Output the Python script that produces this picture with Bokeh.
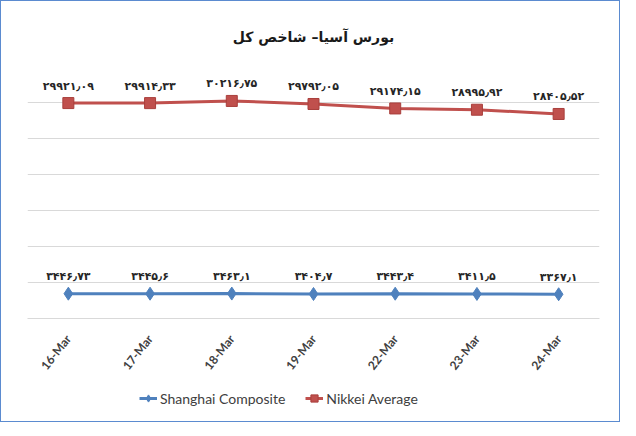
from bokeh.plotting import figure
from bokeh.layouts import column
from bokeh.models import ColumnDataSource, Legend, LegendItem, Range1d, FixedTicker
from bokeh.core.properties import value
from bokeh.embed import file_html
from bokeh.resources import INLINE

dates = ["16-Mar", "17-Mar", "18-Mar", "19-Mar", "22-Mar", "23-Mar", "24-Mar"]
shanghai = [3446.73, 3445.6, 3463.1, 3404.7, 3443.4, 3411.5, 3367.1]
nikkei = [29921.09, 29914.33, 30216.75, 29792.05, 29174.15, 28995.92, 28405.52]
series_names = ["Shanghai Composite", "Nikkei Average"]
title_text = "بورس آسیا– شاخص کل"

fa = str.maketrans("0123456789.", "۰۱۲۳۴۵۶۷۸۹٫")
def fa_label(v):
    return str(v).translate(fa)

blue = "#4f81bd"
red = "#c0504d"

src_s = ColumnDataSource(dict(x=dates, y=shanghai, lab=[fa_label(v) for v in shanghai]))
src_n = ColumnDataSource(dict(x=dates, y=nikkei, lab=[fa_label(v) for v in nikkei]))

p = figure(x_range=dates, y_range=Range1d(0, 35000), width=618, height=382,
           output_backend="svg", toolbar_location=None, min_border_left=26,
           min_border_right=20, min_border_top=65, min_border_bottom=65)
p.outline_line_color = None
p.background_fill_color = "white"
p.border_fill_color = "white"

p.title.text = title_text
p.title.align = "center"
p.title.text_font = "DejaVu Sans"
p.title.text_font_style = "bold"
p.title.text_font_size = "14px"
p.title.text_color = "#1a1a1a"
p.title.standoff = 44

p.yaxis.visible = False
p.ygrid.ticker = FixedTicker(ticks=[0, 5000, 10000, 15000, 20000, 25000, 30000, 35000])
p.ygrid.grid_line_color = "#d9d9d9"
p.xgrid.grid_line_color = None

p.xaxis.axis_line_color = "#d9d9d9"
p.xaxis.major_tick_line_color = None
p.xaxis.minor_tick_line_color = None
p.xaxis.major_label_orientation = 0.9
p.xaxis.major_label_text_font = "Lato"
p.xaxis.major_label_text_font_style = "bold"
p.xaxis.major_label_text_font_size = "12px"
p.xaxis.major_label_text_color = "#404040"
p.xaxis.major_label_standoff = 12

p.line("x", "y", source=src_s, line_color=blue, line_width=3)
p.scatter("x", "y", source=src_s, marker="diamond", size=13, fill_color=blue, line_color=blue)
p.line("x", "y", source=src_n, line_color=red, line_width=3)
p.scatter("x", "y", source=src_n, marker="square", size=11, fill_color=red, line_color="#a93f3c")

for src in (src_s, src_n):
    p.text("x", "y", text="lab", source=src, text_align="center", text_baseline="middle",
           y_offset=-17, text_font=value("DejaVu Sans"), text_font_style="bold",
           text_font_size="11px", text_color="#262626")

# legend strip (placeholder renderers with no visible data only supply the legend glyphs)
lg = figure(width=618, height=38, output_backend="svg", toolbar_location=None,
            x_range=Range1d(0, 1), y_range=Range1d(0, 1),
            min_border_left=0, min_border_right=0, min_border_top=0, min_border_bottom=0)
lg.axis.visible = False
lg.grid.visible = False
lg.outline_line_color = None
nan = float("nan")
empty = ColumnDataSource(dict(x=[nan], y=[nan]))
r1 = [lg.line("x", "y", source=empty, line_color=blue, line_width=3),
      lg.scatter("x", "y", source=empty, marker="diamond", size=11, fill_color=blue, line_color=blue)]
r2 = [lg.line("x", "y", source=empty, line_color=red, line_width=3),
      lg.scatter("x", "y", source=empty, marker="square", size=9, fill_color=red, line_color="#a93f3c")]
legend = Legend(items=[LegendItem(label=series_names[0], renderers=r1),
                       LegendItem(label=series_names[1], renderers=r2)],
                orientation="horizontal", location=(112, 13), border_line_color=None,
                background_fill_alpha=0, label_standoff=3,
                label_text_font="Lato", label_text_font_size="14px", label_text_color="#404040",
                glyph_width=18, spacing=20, padding=2, margin=0)
lg.add_layout(legend, "center")

layout = column(p, lg, spacing=0, styles={"border": "1px solid #5b8bd0"})

open("out.html", "w").write(file_html(layout, INLINE))
